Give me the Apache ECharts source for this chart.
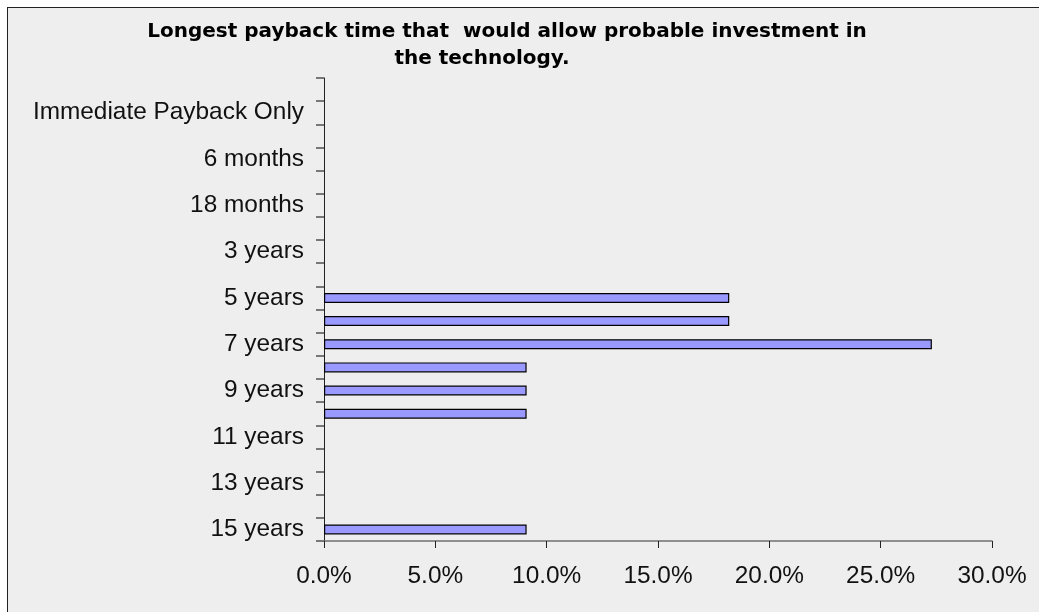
<!DOCTYPE html>
<html>
<head>
<meta charset="utf-8">
<script src="https://cdn.jsdelivr.net/npm/echarts@6/dist/echarts.min.js"></script>
<style>
	html, body { margin: 0; padding: 0; background: #fff; overflow: hidden; }
	#wrap { position: relative; width: 1039px; height: 612px; overflow: hidden; }
	/* grey chart area, frame only shows on the left and top */
	#frame { position: absolute; left: 7px; top: 7px; width: 1200px; height: 800px;
		background: #eeeeee; border: 1.5px solid #222; }
	#chart { position: absolute; left: 0; top: 0; width: 1039px; height: 612px; }
</style>
</head>
<body>
<div id="wrap">
	<div id="frame"></div>
	<div id="chart"></div>
</div>
<script>
// categories go bottom -> top, like the excel sheet
var categories = ['15 years', '14 years', '13 years', '12 years', '11 years', '10 years', '9 years', '8 years',
	'7 years', '6 years', '5 years', '4 years', '3 years', '2 years', '18 months', '12 months', '6 months',
	'3 months', 'Immediate Payback Only', "Don't know"];
// share of answers, in percent
var shares = [9.1, 0, 0, 0, 0, 9.1, 9.1, 9.1, 27.3, 18.2, 18.2, 0, 0, 0, 0, 0, 0, 0, 0, 0];
var xTicks = [0, 5, 10, 15, 20, 25, 30];
var titleLine1 = 'Longest payback time that  would allow probable investment in';
var titleLine2 = 'the technology.';

var labelFont = '"Liberation Sans", Arial, sans-serif';
var titleFont = '"DejaVu Sans", Verdana, sans-serif';

var myChart = echarts.init(document.getElementById('chart'));

var option = {
	backgroundColor: 'transparent',
	animation: false,
	title: [{
		text: titleLine1,
		left: 507,
		top: 22,
		padding: 0,
		textAlign: 'center',
		textVerticalAlign: 'top',
		textStyle: { fontFamily: titleFont, fontWeight: 'bold', fontSize: 20, color: '#000' }
	}, {
		text: titleLine2,
		left: 482,
		top: 49,
		padding: 0,
		textAlign: 'center',
		textVerticalAlign: 'top',
		textStyle: { fontFamily: titleFont, fontWeight: 'bold', fontSize: 20, color: '#000' }
	}],
	grid: {
		left: 324,
		right: 47,
		top: 78,
		bottom: 71
	},
	xAxis: {
		type: 'value',
		min: xTicks[0],
		max: xTicks[xTicks.length - 1],
		interval: xTicks[1] - xTicks[0],
		splitLine: { show: false },
		axisLine: { show: true, lineStyle: { color: '#707070', width: 1.5 } },
		axisTick: { show: true, length: 7, lineStyle: { color: '#222', width: 1 } },
		axisLabel: {
			margin: 23,
			fontFamily: labelFont,
			fontSize: 24.4,
			color: '#111',
			formatter: function (v) { return v.toFixed(1) + '%'; }
		}
	},
	yAxis: {
		type: 'category',
		data: categories,
		axisLine: { show: true, lineStyle: { color: '#222', width: 1 } },
		axisTick: { show: true, interval: 0, length: 8, lineStyle: { color: '#777', width: 2 } },
		axisLabel: {
			interval: 1,
			margin: 20,
			fontFamily: labelFont,
			fontSize: 24.4,
			color: '#111'
		}
	},
	series: [{
		type: 'bar',
		barWidth: 10,
		data: shares.map(function (v) { return v === 0 ? '-' : v; }),
		itemStyle: { color: '#9999ff', borderColor: '#000', borderWidth: 1.2 }
	}]
};

myChart.setOption(option);
</script>
</body>
</html>
